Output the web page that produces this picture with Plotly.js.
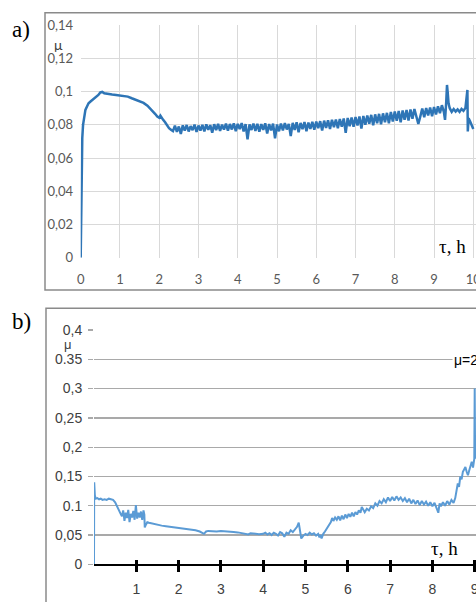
<!DOCTYPE html>
<html>
<head>
<meta charset="utf-8">
<script src="https://cdn.plot.ly/plotly-3.0.1.min.js"></script>
<style>html,body{margin:0;padding:0;background:#fff;}#chart{width:476px;height:602px;}</style>
</head>
<body>
<div id="chart"></div>
<script>
// ---------- Panel a) data ----------
const aTime = [0,0.01,0.02,0.04,0.06,0.09,0.12,0.16,0.2,0.25,0.3,0.35,0.4,0.45,0.5,0.55,0.6,0.7,0.8,0.9,1.0,1.1,1.2,1.3,1.4,1.5,1.6,1.7,1.8,1.85,1.9,1.95,2.0,2.03,2.06,2.1,2.15,2.2,2.25,2.3,
 2.35,2.4,2.45,2.5,2.55,2.6,2.65,2.7,2.75,2.8,2.85,2.9,2.95,3.0,
 3.05,3.1,3.15,3.2,3.25,3.3,3.35,3.4,3.45,3.5,3.55,3.6,3.65,3.7,
 3.75,3.8,3.85,3.9,3.95,4.0,4.05,4.1,4.15,4.2,4.25,4.3,4.35,4.4,
 4.45,4.5,4.55,4.6,4.65,4.7,4.75,4.8,4.85,4.9,4.95,5.0,5.05,5.1,
 5.15,5.2,5.25,5.3,5.35,5.4,5.45,5.5,5.55,5.6,5.65,5.7,5.75,5.8,
 5.85,5.9,5.95,6.0,6.05,6.1,6.15,6.2,6.25,6.3,6.35,6.4,6.45,6.5,
 6.55,6.6,6.65,6.7,6.75,6.8,6.85,6.9,6.95,7.0,7.05,7.1,7.15,7.2,
 7.25,7.3,7.35,7.4,7.45,7.5,7.55,7.6,7.65,7.7,7.75,7.8,7.85,7.9,
 7.95,8.0,8.05,8.1,8.15,8.2,8.25,8.3,8.35,8.4,8.45,8.5,8.55,8.6,
 8.65,8.7,8.75,8.8,8.85,8.9,8.95,9.0,9.05,9.1,9.15,9.2,9.25,9.28,
 9.31,9.33,9.35,9.37,9.4,9.45,9.5,9.55,9.6,9.65,9.7,9.75,9.8,9.83,9.85,9.86,9.88,9.92,9.96,10.0];
const aMu = [0,0.03,0.066,0.072,0.08,0.086,0.089,0.091,0.093,0.094,0.095,0.096,0.0965,0.098,0.0995,0.0998,0.099,0.0985,0.0982,0.098,0.0978,0.0975,0.097,0.096,0.095,0.0943,0.0932,0.0915,0.0893,0.088,0.0865,0.085,0.0843,0.0855,0.084,0.083,0.0815,0.0795,0.078,0.077,
 0.0762,0.0795,0.0758,0.0790,0.0745,0.0797,0.0765,0.0799,0.0760,0.0792,0.0768,0.0801,0.0757,0.0796,
 0.0766,0.0800,0.0761,0.0803,0.0770,0.0798,0.0752,0.0804,0.0768,0.0806,0.0763,0.0801,0.0771,0.0807,
 0.0765,0.0805,0.0772,0.0809,0.0762,0.0806,0.0774,0.0810,0.0760,0.0804,0.0712,0.0803,0.0769,0.0808,
 0.0764,0.0806,0.0758,0.0804,0.0770,0.0809,0.0748,0.0805,0.0766,0.0807,0.0718,0.0802,0.0761,0.0808,
 0.0767,0.0810,0.0772,0.0806,0.0732,0.0812,0.0770,0.0815,0.0755,0.0811,0.0774,0.0817,0.0762,0.0814,
 0.0776,0.0818,0.0770,0.0820,0.0780,0.0822,0.0766,0.0825,0.0782,0.0827,0.0775,0.0830,0.0786,0.0832,
 0.0780,0.0835,0.0788,0.0838,0.0752,0.0841,0.0792,0.0844,0.0788,0.0847,0.0796,0.0850,0.0778,0.0853,
 0.0800,0.0856,0.0806,0.0860,0.0797,0.0863,0.0810,0.0866,0.0804,0.0869,0.0815,0.0872,0.0810,0.0877,
 0.0820,0.0880,0.0824,0.0883,0.0816,0.0886,0.0830,0.0889,0.0826,0.0892,0.0836,0.0895,0.0840,0.0805,
 0.0850,0.0898,0.0846,0.0901,0.0856,0.0904,0.0852,0.0907,0.0862,0.0912,0.0870,0.0918,0.0878,0.0830,
 0.0935,0.1040,0.0990,0.0930,0.0900,0.0878,0.0895,0.0880,0.0893,0.0878,0.0896,0.0884,0.0902,0.0960,0.1010,0.0760,0.0840,0.0820,0.0800,0.0775];
const aTickVals = [0,1,2,3,4,5,6,7,8,9,10];
const aTickText = ['0','1','2','3','4','5','6','7','8','9','10'];
const aYTickVals = [0,0.02,0.04,0.06,0.08,0.1,0.12,0.14];
const aYTickText = ['0','0,02','0,04','0,06','0,08','0,1','0,12','0,14'];

// ---------- Panel b) data ----------
const bTime = [0,0.005,0.02,0.04,0.08,0.12,0.16,0.2,0.25,0.3,0.35,0.4,0.45,0.5,0.55,0.6,0.63,
 0.66,0.69,0.72,0.75,0.78,0.81,0.84,0.87,0.9,0.93,0.96,0.99,1.02,1.05,1.08,1.11,1.14,1.17,1.19,
 1.2,1.23,1.26,1.3,1.35,1.4,1.5,1.6,1.7,1.8,1.9,2.0,2.1,2.2,2.3,2.4,2.5,2.55,2.6,2.65,2.7,2.8,2.9,3.0,3.1,3.2,3.3,3.4,3.5,3.6,3.65,3.7,3.8,3.9,4.0,
 4.05,4.1,4.15,4.2,4.25,4.3,4.35,4.4,4.45,4.5,4.55,4.6,4.65,4.7,4.75,4.8,4.84,4.87,4.9,4.95,5.0,5.05,5.1,5.15,5.2,5.25,5.3,5.33,5.36,5.38,5.42,5.46,5.5,5.55,5.6,
 5.63,5.66,5.7,5.74,5.78,5.82,5.86,5.9,5.94,5.98,6.02,6.06,6.1,6.14,6.18,6.22,6.26,6.3,6.33,6.37,
 6.4,6.45,6.5,6.55,6.6,6.65,6.7,6.75,6.8,6.85,6.9,6.95,7.0,7.05,7.1,7.15,7.2,7.25,7.3,7.35,7.4,7.45,7.5,7.55,7.6,7.65,7.7,7.75,7.8,7.85,7.9,7.95,8.0,8.05,8.1,
 8.14,8.17,8.2,8.25,8.3,8.35,8.4,8.45,8.5,8.54,
 8.57,8.6,8.63,8.66,8.69,8.72,8.75,8.78,8.81,8.84,8.87,8.9,8.93,8.96,8.99,9.0,9.01];
const bMu = [0,0.14,0.118,0.112,0.113,0.111,0.112,0.110,0.111,0.110,0.112,0.111,0.110,0.106,0.097,0.090,0.086,
 0.082,0.092,0.074,0.088,0.079,0.093,0.072,0.086,0.080,0.091,0.076,0.101,0.078,0.088,0.080,0.090,0.076,0.092,0.085,
 0.063,0.068,0.072,0.071,0.070,0.069,0.068,0.066,0.065,0.064,0.063,0.062,0.0615,0.061,0.0595,0.058,0.056,0.054,0.052,0.056,0.057,0.0565,0.056,0.057,0.056,0.0555,0.055,0.0545,0.053,0.0525,0.051,0.053,0.052,0.0515,0.052,
 0.054,0.051,0.053,0.050,0.054,0.052,0.049,0.055,0.053,0.047,0.054,0.052,0.058,0.055,0.060,0.064,0.071,0.060,0.044,0.049,0.052,0.050,0.054,0.051,0.053,0.049,0.052,0.046,0.050,0.044,0.052,0.056,0.060,0.066,0.072,
 0.079,0.074,0.080,0.076,0.082,0.075,0.083,0.077,0.085,0.079,0.086,0.081,0.088,0.082,0.089,0.085,0.092,0.088,0.098,0.092,
 0.089,0.095,0.092,0.099,0.096,0.104,0.100,0.108,0.104,0.111,0.106,0.114,0.108,0.115,0.109,0.116,0.110,0.114,0.108,0.113,0.106,0.112,0.104,0.110,0.103,0.109,0.101,0.108,0.102,0.107,0.100,0.106,0.099,0.105,0.097,
 0.088,0.104,0.099,0.106,0.100,0.108,0.102,0.110,0.105,0.113,
 0.125,0.138,0.132,0.150,0.145,0.158,0.162,0.166,0.158,0.152,0.160,0.170,0.175,0.165,0.180,0.300,0.180];
const bTickVals = [1,2,3,4,5,6,7,8,9];
const bTickText = ['1','2','3','4','5','6','7','8','9'];
const bYTickVals = [0,0.05,0.1,0.15,0.2,0.25,0.3,0.35,0.4];
const bYTickText = ['0','0,05','0.1','0,15','0,2','0,25','0,3','0.35','0,4'];

// ---------- layout helpers (pixel -> paper) ----------
const W = 476, H = 602;
const fx = px => px / W;
const fy = py => 1 - py / H;

const tickFontA = {family: 'Lato, sans-serif', size: 13, color: '#595959'};
const tickFontB = {family: 'Liberation Sans, Arial, sans-serif', size: 14, color: '#404040'};

const traces = [
  {x: aTime, y: aMu, xaxis: 'x', yaxis: 'y', type: 'scatter', mode: 'lines',
   line: {color: '#2e75b6', width: 2.5}, hoverinfo: 'skip'},
  {x: bTime, y: bMu, xaxis: 'x2', yaxis: 'y2', type: 'scatter', mode: 'lines',
   line: {color: '#5b9bd5', width: 2}, hoverinfo: 'skip'},
  // carrier for the inside half of the crossing ticks in b)
  {x: bTime, y: bMu, xaxis: 'x3', yaxis: 'y2', type: 'scatter', mode: 'lines',
   line: {color: 'rgba(0,0,0,0)', width: 0}, opacity: 0, hoverinfo: 'skip'}
];

const layout = {
  width: W, height: H,
  margin: {l: 0, r: 0, t: 0, b: 0, pad: 0},
  paper_bgcolor: '#ffffff', plot_bgcolor: '#ffffff',
  showlegend: false,
  xaxis: {domain: [fx(80.7), 1], range: [0, (476 - 80.7) / 39.26], anchor: 'y',
    tickmode: 'array', tickvals: aTickVals, ticktext: aTickText, ticklabeloverflow: 'allow',
    showgrid: true, gridcolor: '#d9d9d9', gridwidth: 1, zeroline: false, showline: false,
    ticks: 'outside', ticklen: 10, tickcolor: 'rgba(0,0,0,0)', tickfont: tickFontA, fixedrange: true},
  yaxis: {domain: [fy(257.7), fy(25)], range: [0, 0.1401], anchor: 'x',
    tickmode: 'array', tickvals: aYTickVals, ticktext: aYTickText,
    showgrid: true, gridcolor: '#d9d9d9', gridwidth: 1, zeroline: false, showline: false,
    ticks: 'outside', ticklen: 4, tickcolor: 'rgba(0,0,0,0)', tickfont: tickFontA, fixedrange: true},
  xaxis2: {domain: [fx(94), 1], range: [0, (476 - 94) / 42.3], anchor: 'y2',
    tickmode: 'array', tickvals: bTickVals, ticktext: bTickText, ticklabeloverflow: 'allow',
    showgrid: false, zeroline: false, showline: true, linecolor: '#000000', linewidth: 2,
    ticks: 'outside', ticklen: 6, tickwidth: 3, tickcolor: '#000000', ticklabelstandoff: 5,
    tickfont: tickFontB, fixedrange: true},
  xaxis3: {domain: [fx(94), 1], range: [0, (476 - 94) / 42.3], anchor: 'y2', overlaying: 'x2',
    tickmode: 'array', tickvals: bTickVals, ticktext: bTickText, showticklabels: false,
    showgrid: false, zeroline: false, showline: false,
    ticks: 'inside', ticklen: 4, tickwidth: 3, tickcolor: '#000000', fixedrange: true},
  yaxis2: {domain: [fy(564.3), fy(329.7)], range: [0, 0.4005], anchor: 'x2',
    tickmode: 'array', tickvals: bYTickVals, ticktext: bYTickText,
    showgrid: true, gridcolor: '#a9a9a9', gridwidth: 1.3, zeroline: false, showline: false,
    ticks: 'outside', ticklen: 5, tickwidth: 1.3, tickcolor: '#a9a9a9', ticklabelstandoff: 3,
    tickfont: tickFontB, fixedrange: true},
  shapes: [
    {type: 'rect', xref: 'paper', yref: 'paper', x0: fx(45), x1: fx(490), y0: fy(290), y1: fy(12.7),
     line: {color: '#8a8a8a', width: 1.5}, fillcolor: 'rgba(0,0,0,0)', layer: 'below'},
    {type: 'rect', xref: 'paper', yref: 'paper', x0: fx(46), x1: fx(490), y0: fy(620), y1: fy(308.3),
     line: {color: '#8a8a8a', width: 1.5}, fillcolor: 'rgba(0,0,0,0)', layer: 'below'}
  ],
  annotations: [
    {text: 'a)', xref: 'paper', yref: 'paper', x: fx(21), y: fy(30), xanchor: 'center', yanchor: 'middle',
     showarrow: false, font: {family: 'Liberation Serif, serif', size: 23, color: '#000'}},
    {text: 'b)', xref: 'paper', yref: 'paper', x: fx(21), y: fy(322), xanchor: 'center', yanchor: 'middle',
     showarrow: false, font: {family: 'Liberation Serif, serif', size: 23, color: '#000'}},
    {text: 'μ', xref: 'paper', yref: 'paper', x: fx(58), y: fy(44), xanchor: 'center', yanchor: 'middle',
     showarrow: false, font: {family: 'Lato, sans-serif', size: 14, color: '#404040'}},
    {text: 'μ', xref: 'paper', yref: 'paper', x: fx(68), y: fy(344), xanchor: 'center', yanchor: 'middle',
     showarrow: false, font: {family: 'Liberation Sans, sans-serif', size: 13, color: '#404040'}},
    {text: 'τ, h', xref: 'paper', yref: 'paper', x: fx(452), y: fy(247), xanchor: 'center', yanchor: 'middle',
     showarrow: false, font: {family: 'Liberation Serif, serif', size: 19, color: '#000'}},
    {text: 'τ, h', xref: 'paper', yref: 'paper', x: fx(444.5), y: fy(548), xanchor: 'center', yanchor: 'middle',
     showarrow: false, font: {family: 'Liberation Serif, serif', size: 19, color: '#000'}},
    {text: 'μ=2', xref: 'paper', yref: 'paper', x: fx(452), y: fy(360), xanchor: 'left', yanchor: 'middle',
     showarrow: false, bgcolor: '#ffffff', font: {family: 'Liberation Sans, sans-serif', size: 14, color: '#000'}}
  ]
};

Plotly.newPlot('chart', traces, layout, {displayModeBar: false, staticPlot: true});
</script>
</body>
</html>
